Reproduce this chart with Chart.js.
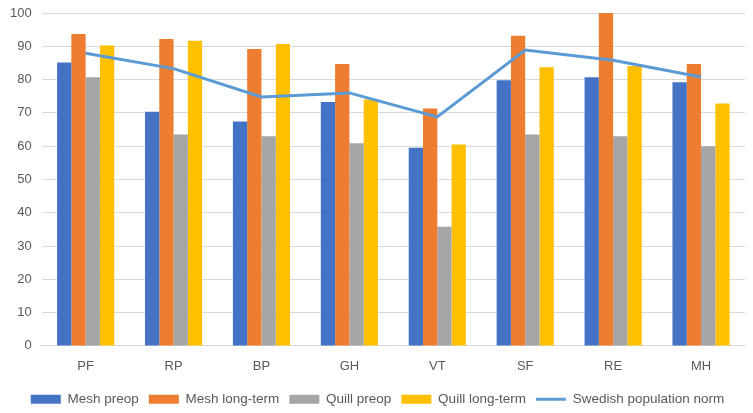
<!DOCTYPE html>
<html>
<head>
<meta charset="utf-8">
<script src="https://cdn.jsdelivr.net/npm/chart.js@4"></script>
<style>
  body { margin: 0; background: #fff; }
  #wrap { width: 753px; height: 413px; }
</style>
</head>
<body>
<div id="wrap"><canvas id="chart" width="753" height="413"></canvas></div>
<script>
// categories + series
const categories = ['PF', 'RP', 'BP', 'GH', 'VT', 'SF', 'RE', 'MH'];
const meshPreop = [85.1, 70.3, 67.4, 73.3, 59.5, 79.8, 80.7, 79.2];
const meshLongTerm = [93.7, 92.2, 89.2, 84.7, 71.3, 93.2, 100, 84.7];
const quillPreop = [80.7, 63.5, 63.0, 60.9, 35.8, 63.5, 63.0, 60.0];
const quillLongTerm = [90.2, 91.7, 90.7, 74.0, 60.5, 83.7, 84.1, 72.8];
const swedishNorm = [87.9, 83.3, 74.8, 76.0, 68.8, 88.9, 85.8, 80.8];
const yTicks = [0, 10, 20, 30, 40, 50, 60, 70, 80, 90, 100];

const textColor = '#595959';
const font = { family: 'Liberation Sans, Arial, sans-serif', size: 13 };

function barSet(label, data, color) {
    return { type: 'bar', label: label, data: data, backgroundColor: color, borderWidth: 0,
             order: 1, pointStyle: 'rect', barPercentage: 1.0, categoryPercentage: 0.65 };
}

// nudge the legend a bit right/down, like the original
const legendShift = {
    id: 'legendShift',
    afterLayout(chart) {
        const lg = chart.legend;
        if (lg) { lg.left += 5; lg.right += 5; lg.top += 3; lg.bottom += 3; }
    }
};

new Chart(document.getElementById('chart').getContext('2d'), {
    data: {
        labels: categories,
        datasets: [
            barSet('Mesh preop', meshPreop, '#4472C4'),
            barSet('Mesh long-term', meshLongTerm, '#ED7D31'),
            barSet('Quill preop', quillPreop, '#A5A5A5'),
            barSet('Quill long-term', quillLongTerm, '#FFC000'),
            {
                type: 'line', label: 'Swedish population norm', data: swedishNorm,
                borderColor: '#5B9BD5', backgroundColor: '#5B9BD5', borderWidth: 3,
                pointRadius: 0, pointStyle: 'line', tension: 0, order: 0
            }
        ]
    },
    plugins: [legendShift],
    options: {
        responsive: false,
        animation: false,
        layout: { padding: { left: 0, right: 8, top: 0, bottom: 0 } },
        plugins: {
            tooltip: { enabled: false },
            legend: {
                position: 'bottom',
                labels: {
                    color: textColor, font: { family: font.family, size: 13.5 },
                    usePointStyle: true, pointStyleWidth: 30, boxHeight: 9,
                    padding: 10,
                    sort: (a, b) => a.datasetIndex - b.datasetIndex
                }
            }
        },
        scales: {
            x: {
                grid: { display: false, drawTicks: false },
                border: { color: '#D9D9D9' },
                ticks: { color: textColor, font: font, padding: 13 },
                afterFit: (scale) => { scale.height -= 8; }
            },
            y: {
                min: 0, max: 100,
                afterBuildTicks: (axis) => { axis.ticks = yTicks.map(v => ({ value: v })); },
                grid: { color: '#D9D9D9', drawTicks: false },
                border: { display: false },
                ticks: { color: textColor, font: font, padding: 10 },
                afterFit: (scale) => { scale.paddingTop = 13; }
            }
        }
    }
});
</script>
</body>
</html>
